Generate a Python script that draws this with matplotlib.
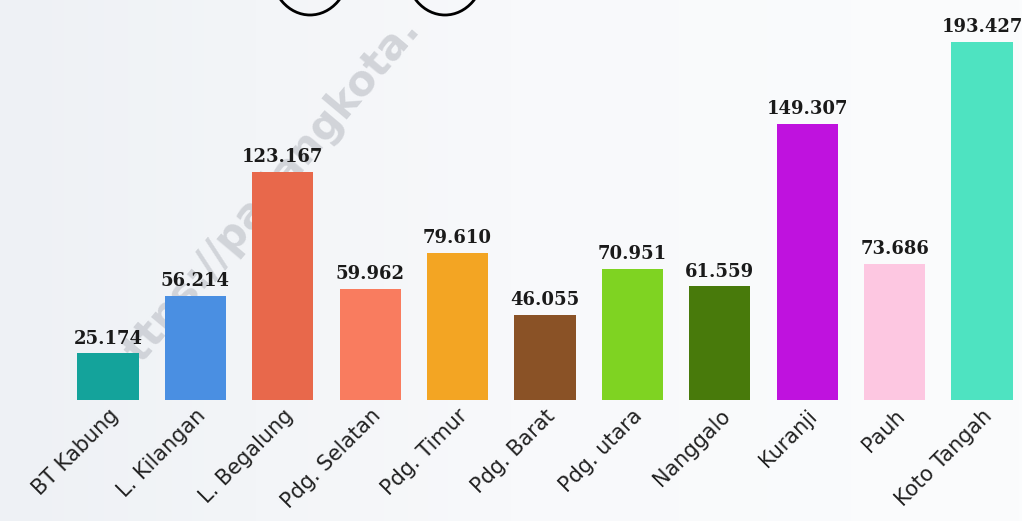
import numpy as np
import matplotlib.pyplot as plt
from matplotlib.patches import Ellipse

# jumlah penduduk per kecamatan (ribu)
kecamatan = ['BT Kabung', 'L. Kilangan', 'L. Begalung', 'Pdg. Selatan', 'Pdg. Timur',
             'Pdg. Barat', 'Pdg. utara', 'Nanggalo', 'Kuranji', 'Pauh', 'Koto Tangah']
penduduk = [25.174, 56.214, 123.167, 59.962, 79.610, 46.055, 70.951, 61.559, 149.307, 73.686, 193.427]
label_nilai = ['25.174', '56.214', '123.167', '59.962', '79.610', '46.055',
               '70.951', '61.559', '149.307', '73.686', '193.427']
warna = ['#14a39b', '#4a8fe2', '#e8684b', '#f97c5f', '#f3a523', '#8a5226',
         '#7fd322', '#487a0b', '#bf12de', '#fdc7e1', '#4ee3c1']

fig = plt.figure(figsize=(10.22, 5.21), dpi=100)

# background gradient
bg = fig.add_axes([0, 0, 1, 1], zorder=0)
grad = np.linspace(0, 1, 256)[None, :]
bg.imshow(grad, aspect='auto', cmap=plt.matplotlib.colors.LinearSegmentedColormap.from_list(
    'bg', ['#eef1f5', '#f8f9fb', '#fbfcfd']), extent=[0, 1, 0, 1])
bg.set_xlim(0, 1)
bg.set_ylim(0, 1)
bg.axis('off')

# lingkaran dekorasi di atas (terpotong)
for cx in [310 / 1022, 445 / 1022]:
    bg.add_patch(Ellipse((cx, 1 + 30 / 521), 78 / 1022, 90 / 521, fill=False,
                         edgecolor='black', lw=2))

# watermark
bg.text(262 / 1022, 1 - 198 / 521, 'https://padangkota.', rotation=50,
        fontsize=30, color='#c6c9cf', alpha=0.75, ha='center', va='center',
        fontweight='bold', family='DejaVu Sans')

ax = fig.add_axes([0, 121 / 521, 1, 400 / 521], zorder=1)
ax.patch.set_alpha(0)
x = np.arange(len(kecamatan))
bars = ax.bar(x, penduduk, width=0.7, color=warna)
ax.set_xlim(-1.236, 10.458)
ax.set_ylim(0, 216.1)

for b, t in zip(bars, label_nilai):
    ax.text(b.get_x() + b.get_width() / 2, b.get_height() + 3, t, ha='center', va='bottom',
            fontsize=13, fontweight='bold', family='DejaVu Serif', color='#1a1a1a')

ax.set_xticks(x)
ax.set_xticklabels(kecamatan, rotation=45, ha='right', rotation_mode='anchor',
                   fontsize=15, family='DejaVu Sans', color='#222222')
ax.tick_params(axis='x', length=0, pad=4)
ax.set_yticks([])
for s in ax.spines.values():
    s.set_visible(False)

fig.savefig('out.png', dpi=100)
